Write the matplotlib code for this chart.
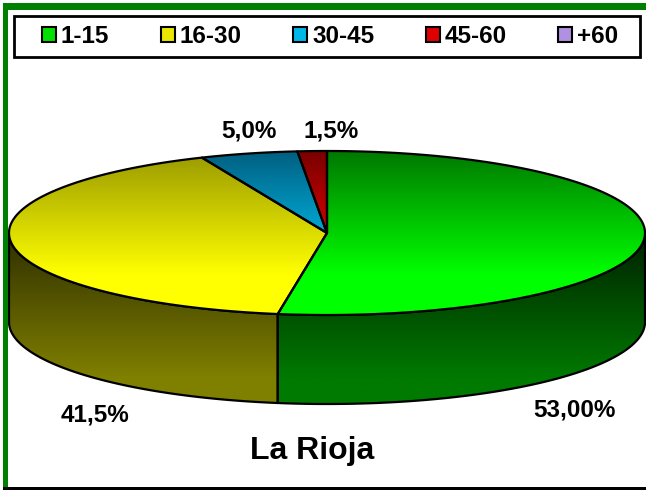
import numpy as np
import matplotlib.pyplot as plt
from matplotlib.patches import Polygon, Rectangle, Patch
from matplotlib.colors import LinearSegmentedColormap

# Data
categories = ['1-15', '16-30', '30-45', '45-60', '+60']
values = [53.0, 41.5, 5.0, 1.5, 0.0]
value_labels = ['53,00%', '41,5%', '5,0%', '1,5%', '']
title = 'La Rioja'

# Colours (top face: dark -> light, side: dark -> light)
top_colors = [('#007800', '#00ff00'), ('#989800', '#ffff00'),
              ('#005f80', '#00ccff'), ('#7a0000', '#ff0000'),
              ('#8060a0', '#c0a0ff')]
side_colors = [('#002000', '#007a00'), ('#2e2e00', '#808000'),
               ('#003040', '#006080'), ('#400000', '#800000'),
               ('#403050', '#806090')]
legend_colors = ['#00e000', '#e8e800', '#00b8e8', '#e00000', '#b090e0']

# Geometry of the 3D pie (pixels)
cx, cy = 327, 233
a, b = 318, 82
depth = 89

W, H = 646, 491
fig = plt.figure(figsize=(W / 100, H / 100), dpi=100)
ax = fig.add_axes([0, 0, 1, 1])
ax.axis('off')

plt.rcParams['font.family'] = ['Liberation Sans', 'DejaVu Sans']


def pt(theta, dy=0):
    t = np.radians(theta)
    return cx + a * np.sin(t), cy - b * np.cos(t) + dy


def grad_poly(verts, c0, c1, y0, y1, z, stop=1.0):
    verts = np.asarray(verts)
    poly = Polygon(verts, closed=True, facecolor='none', edgecolor='black',
                   lw=1.6, joinstyle='round', zorder=z + 0.5)
    ax.add_patch(poly)
    cmap = LinearSegmentedColormap.from_list('g', [(0, c0), (stop, c1), (1, c1)])
    grad = np.linspace(0, 1, 256).reshape(-1, 1)
    im = ax.imshow(grad, cmap=cmap, aspect='auto', origin='upper',
                   extent=(verts[:, 0].min() - 2, verts[:, 0].max() + 2, y1, y0),
                   zorder=z, interpolation='bilinear')
    im.set_clip_path(poly)


total = sum(values)
angles = np.cumsum([0] + [v / total * 360 for v in values])

# side walls (front half only: 90..270 deg clockwise from top)
for i, v in enumerate(values):
    if v <= 0:
        continue
    t1, t2 = max(angles[i], 90), min(angles[i + 1], 270)
    if t2 <= t1:
        continue
    th = np.linspace(t1, t2, 200)
    top = [pt(t) for t in th]
    bot = [pt(t, depth) for t in th[::-1]]
    grad_poly(top + bot, side_colors[i][0], side_colors[i][1],
              cy, cy + b + depth, 2, stop=0.85)

# top faces
for i, v in enumerate(values):
    if v <= 0:
        continue
    th = np.linspace(angles[i], angles[i + 1], 300)
    verts = [(cx, cy)] + [pt(t) for t in th]
    grad_poly(verts, top_colors[i][0], top_colors[i][1], cy - b, cy + b, 4,
              stop=0.75)

# value labels
label_pos = [(574, 410), (95, 415), (249, 131), (331, 131)]
for lab, (x, y) in zip(value_labels, label_pos):
    ax.text(x, y, lab, ha='center', va='center', fontsize=17.5,
            fontweight='bold', zorder=6)

ax.text(312, 451, title, ha='center', va='center', fontsize=23,
        fontweight='bold', zorder=6)

# frame decorations
ax.add_patch(Rectangle((3, 3), W - 3, 7, facecolor='#008000', edgecolor='none', zorder=7))
ax.add_patch(Rectangle((3, 3), 5, 486, facecolor='#008000', edgecolor='none', zorder=7))
ax.add_patch(Rectangle((3, 487), W - 3, 2.5, facecolor='black', edgecolor='none', zorder=7))

# legend box
ax.add_patch(Rectangle((14, 16), 626, 41, facecolor='white', edgecolor='black',
                       lw=2, zorder=8))
handles = [Patch(facecolor=c, edgecolor='black', lw=1.5) for c in legend_colors]
leg = ax.legend(handles, categories, loc='center', ncol=5,
                bbox_to_anchor=(330 / W, 1 - 36.5 / H),
                bbox_transform=fig.transFigure, borderaxespad=0, borderpad=0,
                prop={'weight': 'bold', 'size': 17.5}, frameon=False,
                handlelength=0.58, handleheight=0.58, handletextpad=0.2,
                columnspacing=2.12)
leg.set_zorder(9)

ax.set_xlim(0, W)
ax.set_ylim(H, 0)
fig.savefig('out.png', dpi=100)
